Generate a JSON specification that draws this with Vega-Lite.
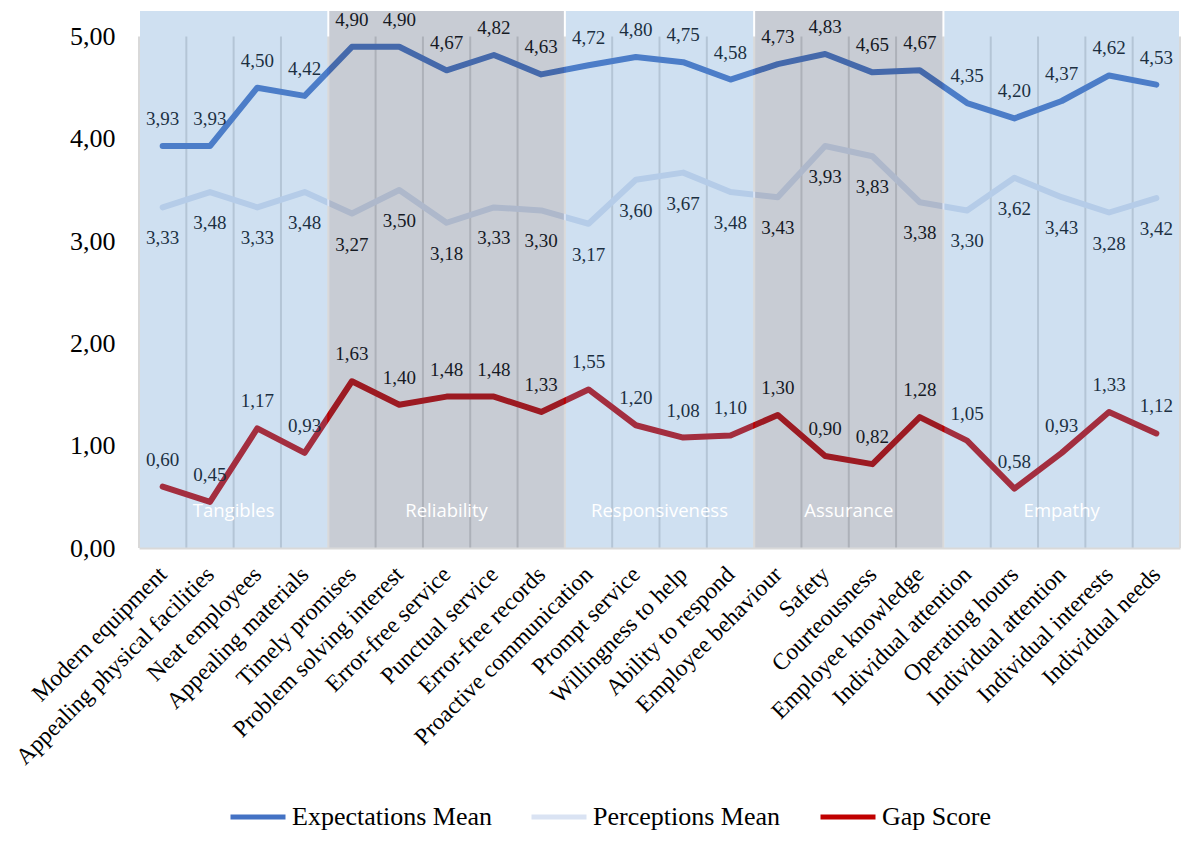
{
  "$schema": "https://vega.github.io/schema/vega-lite/v6.json",
  "width": 1041,
  "height": 537,
  "autosize": {"type": "none"},
  "padding": {"left": 139, "top": 11, "right": 24, "bottom": 302},
  "background": "white",
  "config": {
    "font": "Liberation Serif",
    "view": {"stroke": null},
    "locale": {"number": {"decimal": ",", "thousands": ".", "grouping": [3], "currency": ["", " €"]}}
  },
  "datasets": {
    "items": [
      {"item": "Modern equipment", "Expectations Mean": 3.93, "Perceptions Mean": 3.33, "Gap Score": 0.60},
      {"item": "Appealing physical facilities", "Expectations Mean": 3.93, "Perceptions Mean": 3.48, "Gap Score": 0.45},
      {"item": "Neat employees", "Expectations Mean": 4.50, "Perceptions Mean": 3.33, "Gap Score": 1.17},
      {"item": "Appealing materials", "Expectations Mean": 4.42, "Perceptions Mean": 3.48, "Gap Score": 0.93},
      {"item": "Timely promises", "Expectations Mean": 4.90, "Perceptions Mean": 3.27, "Gap Score": 1.63},
      {"item": "Problem solving interest", "Expectations Mean": 4.90, "Perceptions Mean": 3.50, "Gap Score": 1.40},
      {"item": "Error-free service", "Expectations Mean": 4.67, "Perceptions Mean": 3.18, "Gap Score": 1.48},
      {"item": "Punctual service", "Expectations Mean": 4.82, "Perceptions Mean": 3.33, "Gap Score": 1.48},
      {"item": "Error-free records", "Expectations Mean": 4.63, "Perceptions Mean": 3.30, "Gap Score": 1.33},
      {"item": "Proactive communication", "Expectations Mean": 4.72, "Perceptions Mean": 3.17, "Gap Score": 1.55},
      {"item": "Prompt service", "Expectations Mean": 4.80, "Perceptions Mean": 3.60, "Gap Score": 1.20},
      {"item": "Willingness to help", "Expectations Mean": 4.75, "Perceptions Mean": 3.67, "Gap Score": 1.08},
      {"item": "Ability to respond", "Expectations Mean": 4.58, "Perceptions Mean": 3.48, "Gap Score": 1.10},
      {"item": "Employee behaviour", "Expectations Mean": 4.73, "Perceptions Mean": 3.43, "Gap Score": 1.30},
      {"item": "Safety", "Expectations Mean": 4.83, "Perceptions Mean": 3.93, "Gap Score": 0.90},
      {"item": "Courteousness", "Expectations Mean": 4.65, "Perceptions Mean": 3.83, "Gap Score": 0.82},
      {"item": "Employee knowledge", "Expectations Mean": 4.67, "Perceptions Mean": 3.38, "Gap Score": 1.28},
      {"item": "Individual attention", "Expectations Mean": 4.35, "Perceptions Mean": 3.30, "Gap Score": 1.05},
      {"item": "Operating hours", "Expectations Mean": 4.20, "Perceptions Mean": 3.62, "Gap Score": 0.58},
      {"item": "Individual attention\u200b", "Expectations Mean": 4.37, "Perceptions Mean": 3.43, "Gap Score": 0.93},
      {"item": "Individual interests", "Expectations Mean": 4.62, "Perceptions Mean": 3.28, "Gap Score": 1.33},
      {"item": "Individual needs", "Expectations Mean": 4.53, "Perceptions Mean": 3.42, "Gap Score": 1.12}
    ],
    "dims": [
      {"dim": "Tangibles", "first": "Modern equipment", "last": "Appealing materials", "mid": "Neat employees", "even": true},
      {"dim": "Reliability", "first": "Timely promises", "last": "Error-free records", "mid": "Error-free service", "even": false},
      {"dim": "Responsiveness", "first": "Proactive communication", "last": "Ability to respond", "mid": "Willingness to help", "even": true},
      {"dim": "Assurance", "first": "Employee behaviour", "last": "Employee knowledge", "mid": "Courteousness", "even": true},
      {"dim": "Empathy", "first": "Individual attention", "last": "Individual needs", "mid": "Individual attention\u200b", "even": false}
    ]
  },
  "data": {"name": "items"},
  "layer": [
    {
      "mark": {"type": "rule", "color": "#D9D9D9", "strokeWidth": 2},
      "encoding": {
        "x": {"field": "item", "type": "nominal", "bandPosition": 0,
          "scale": {"paddingInner": 0, "paddingOuter": 0, "domain": ["Modern equipment", "Appealing physical facilities", "Neat employees", "Appealing materials", "Timely promises", "Problem solving interest", "Error-free service", "Punctual service", "Error-free records", "Proactive communication", "Prompt service", "Willingness to help", "Ability to respond", "Employee behaviour", "Safety", "Courteousness", "Employee knowledge", "Individual attention", "Operating hours", "Individual attention\u200b", "Individual interests", "Individual needs"]},
          "axis": {"title": null, "labelAngle": -45, "labelFontSize": 23.5, "labelColor": "black", "labelFont": "Liberation Serif", "ticks": false, "grid": false, "domainColor": "#D9D9D9", "domainWidth": 2, "labelPadding": 14, "labelOffset": -8, "labelLimit": 400, "zindex": 1}},
        "y": {"datum": 0, "type": "quantitative",
          "scale": {"domain": [0, 5.25], "nice": false},
          "axis": {"title": null, "values": [0, 1, 2, 3, 4, 5], "format": ".2f", "ticks": false, "domain": false, "grid": false, "labelFontSize": 26, "labelColor": "black", "labelPadding": 24, "labelFont": "Liberation Serif"}},
        "y2": {"datum": 5}
      }
    },
    {
      "transform": [{"filter": "datum.item === 'Individual needs'"}],
      "mark": {"type": "rule", "color": "#D9D9D9", "strokeWidth": 2},
      "encoding": {
        "x": {"field": "item", "type": "nominal", "bandPosition": 1},
        "y": {"datum": 0, "type": "quantitative"},
        "y2": {"datum": 5}
      }
    },
    {
      "transform": [{"fold": ["Expectations Mean", "Perceptions Mean", "Gap Score"], "as": ["series", "value"]}],
      "mark": {"type": "line", "strokeWidth": 6, "strokeCap": "round", "strokeJoin": "round"},
      "encoding": {
        "x": {"field": "item", "type": "nominal"},
        "y": {"field": "value", "type": "quantitative"},
        "color": {"field": "series", "type": "nominal",
          "scale": {"domain": ["Expectations Mean", "Perceptions Mean", "Gap Score"], "range": ["#4472C4", "#DAE3F3", "#C00000"]},
          "legend": {"title": null, "orient": "none", "legendX": 89, "legendY": 776, "direction": "horizontal", "symbolType": "stroke", "symbolSize": 3025, "symbolStrokeWidth": 5, "labelFontSize": 26, "labelFont": "Liberation Serif", "labelColor": "black", "labelOffset": 4, "columnPadding": 29, "labelLimit": 400}}
      }
    },
    {
      "mark": {"type": "text", "fontSize": 19, "color": "black", "dy": -27, "baseline": "middle"},
      "encoding": {
        "x": {"field": "item", "type": "nominal"},
        "y": {"field": "Expectations Mean", "type": "quantitative"},
        "text": {"field": "Expectations Mean", "type": "quantitative", "format": ".2f"}
      }
    },
    {
      "mark": {"type": "text", "fontSize": 19, "color": "black", "dy": 31, "baseline": "middle"},
      "encoding": {
        "x": {"field": "item", "type": "nominal"},
        "y": {"field": "Perceptions Mean", "type": "quantitative"},
        "text": {"field": "Perceptions Mean", "type": "quantitative", "format": ".2f"}
      }
    },
    {
      "mark": {"type": "text", "fontSize": 19, "color": "black", "dy": -27, "baseline": "middle"},
      "encoding": {
        "x": {"field": "item", "type": "nominal"},
        "y": {"field": "Gap Score", "type": "quantitative"},
        "text": {"field": "Gap Score", "type": "quantitative", "format": ".2f"}
      }
    },
    {
      "data": {"name": "dims"},
      "mark": {"type": "bar", "fillOpacity": 0.3, "xOffset": 1, "x2Offset": -1},
      "encoding": {
        "x": {"field": "first", "type": "nominal", "bandPosition": 0},
        "x2": {"field": "last", "bandPosition": 1},
        "y": {"datum": 0, "type": "quantitative"},
        "y2": {"datum": 5.25},
        "fill": {"field": "dim", "type": "nominal",
          "scale": {"domain": ["Tangibles", "Reliability", "Responsiveness", "Assurance", "Empathy"], "range": ["#5F98D0", "#48556F", "#5F98D0", "#48556F", "#5F98D0"]},
          "legend": null}
      }
    },
    {
      "data": {"name": "dims"},
      "transform": [{"filter": "datum.even"}],
      "mark": {"type": "text", "font": "Open Sans", "fontSize": 18.5, "color": "white", "baseline": "middle"},
      "encoding": {
        "x": {"field": "mid", "type": "nominal", "bandPosition": 0},
        "y": {"datum": 0.36, "type": "quantitative"},
        "text": {"field": "dim"}
      }
    },
    {
      "data": {"name": "dims"},
      "transform": [{"filter": "!datum.even"}],
      "mark": {"type": "text", "font": "Open Sans", "fontSize": 18.5, "color": "white", "baseline": "middle"},
      "encoding": {
        "x": {"field": "mid", "type": "nominal", "bandPosition": 0.5},
        "y": {"datum": 0.36, "type": "quantitative"},
        "text": {"field": "dim"}
      }
    }
  ]
}
